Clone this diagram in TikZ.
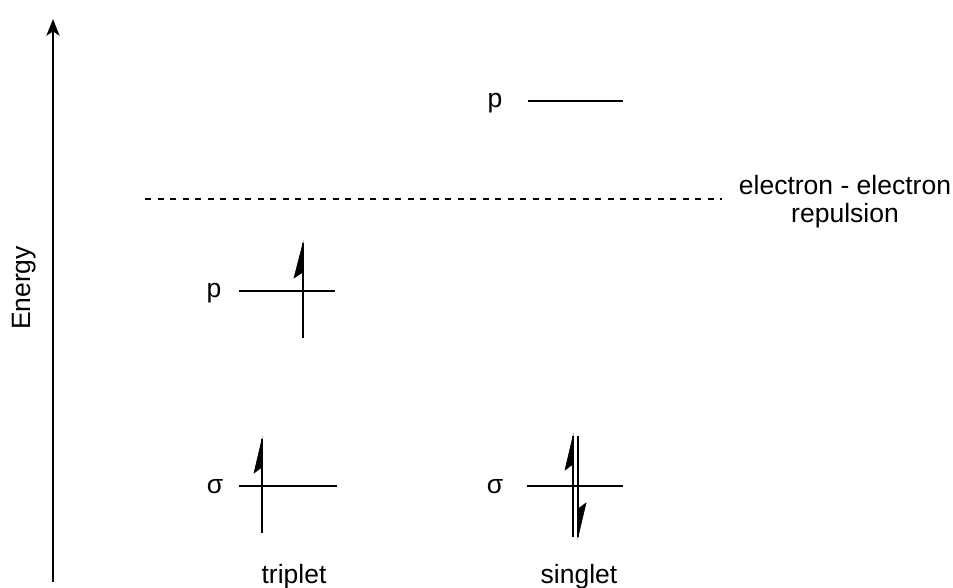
\documentclass[tikz,border=0pt]{standalone}
\usepackage{fontspec}
\setmainfont{Liberation Sans}
\usetikzlibrary{arrows.meta}
\begin{document}
\begin{tikzpicture}[x=1pt,y=-1pt,
  lbl/.style={inner sep=0pt,font=\fontsize{26.5}{28}\selectfont},
  level/.style={line width=2pt},
  elec/.style={line width=2pt},
  barb/.style={fill=black,draw=black,line width=0.6pt,line join=miter}]
\useasboundingbox (0,0) rectangle (953,588);
% energy axis
\coordinate (ax0) at (53,582);
\coordinate (ax1) at (53,20);
\draw[line width=2pt] (ax0) -- (53,30);
\fill[barb] (ax1) -- (47,35) -- (53,31) -- (59,35) -- cycle;
\node[lbl,rotate=90] (energy) at (24,288) {Energy};
% repulsion line
\coordinate (d0) at (145,199);
\coordinate (d1) at (722,199);
\draw[line width=1.7pt,dash pattern=on 6pt off 6.5pt] (d0) -- (d1);
\node[lbl,align=center] (rep) at (845,202) {electron - electron\\repulsion};
% upper p
\node[lbl] (pU) at (495,103) {p};
\coordinate (pU0) at (528,101);
\coordinate (pU1) at (623,101);
\draw[level] (pU0) -- (pU1);
% triplet p
\node[lbl] (pT) at (214,293) {p};
\coordinate (pT0) at (239,291);
\coordinate (pT1) at (335,291);
\draw[level] (pT0) -- (pT1);
\coordinate (eT1a) at (303,243);
\coordinate (eT1b) at (303,338);
\draw[elec] (eT1a) -- (eT1b);
\fill[barb] (eT1a) -- (294,278) -- (303,272) -- cycle;
% triplet sigma
\node[lbl] (sT) at (215,487) {σ};
\coordinate (sT0) at (239,486);
\coordinate (sT1) at (337,486);
\draw[level] (sT0) -- (sT1);
\coordinate (eT2a) at (262,439);
\coordinate (eT2b) at (262,533);
\draw[elec] (eT2a) -- (eT2b);
\fill[barb] (eT2a) -- (254,473) -- (262,467) -- cycle;
% singlet sigma
\node[lbl] (sS) at (495,487) {σ};
\coordinate (sS0) at (527,486);
\coordinate (sS1) at (623,486);
\draw[level] (sS0) -- (sS1);
\coordinate (eS1a) at (573,436);
\coordinate (eS1b) at (573,537);
\draw[elec] (eS1a) -- (eS1b);
\fill[barb] (eS1a) -- (565,470) -- (573,464) -- cycle;
\coordinate (eS2a) at (578,436);
\coordinate (eS2b) at (578,537);
\draw[elec] (eS2a) -- (eS2b);
\fill[barb] (eS2b) -- (586,503) -- (578,509) -- cycle;
% labels
\node[lbl,anchor=base] (trip) at (294,583) {triplet};
\node[lbl,anchor=base] (sing) at (579,583) {singlet};
\end{tikzpicture}
\end{document}
